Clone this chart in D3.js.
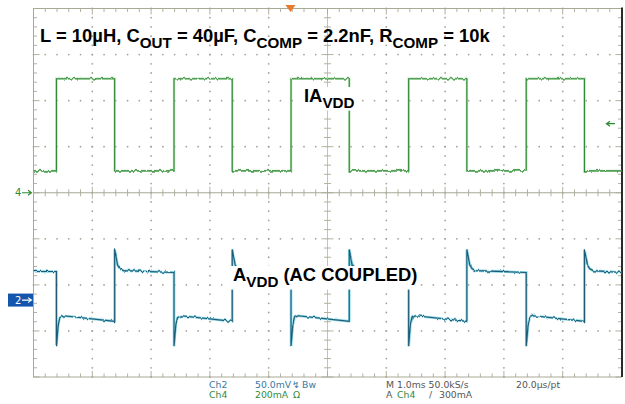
<!DOCTYPE html>
<html>
<head>
<meta charset="utf-8">
<script src="https://cdn.jsdelivr.net/npm/d3@7"></script>
<style>
  body { margin: 0; background: #fff; }
  svg { display: block; }
</style>
</head>
<body>
<div id="scope"></div>
<script>
// Scope settings
const timeDivs = 10;           // 1.0 ms/div
const voltDivs = 8;
const ch4MaPerDiv = 200;       // Ch4 200mA/div
const ch2MvPerDiv = 50;        // Ch2 50.0mV/div
const ch4OffsetDiv = 0;        // "4" marker on centre line
const ch2OffsetDiv = -2.33;    // "2" marker
const triggerMs = 4.37;
const triggerMa = 300;

// Ch4: load current IAVDD (mA), edges in ms
const ch4RiseMs = [0.39, 2.39, 4.38, 6.38, 8.38];
const ch4FallMs = [1.38, 3.38, 5.37, 7.37, 9.37];
const ch4LowMa = 95;
const ch4HighMa = 495;

// Ch2: AVDD, AC coupled (mV). Shape after each load edge as [dt ms, mV]
const ch2AfterRise = [[0, 31], [0, -50], [0.03, -27], [0.06, -19], [0.12, -17]];
const ch2AfterFall = [[0, -23], [0, 55], [0.05, 38], [0.09, 34], [0.15, 32]];
const ch2StartMv = 31;
const ch2LowEndMv = -23;
const ch2HighEndMv = 30;

const W = 625, H = 404;
const plotL = 33.5, plotR = 621.5, plotT = 8.5, plotB = 377;

const x = d3.scaleLinear().domain([0, timeDivs]).range([plotL, plotR]);
const yDiv = d3.scaleLinear().domain([-voltDivs / 2, voltDivs / 2]).range([plotB, plotT]);
const y4 = ma => yDiv(ma / ch4MaPerDiv + ch4OffsetDiv);
const y2 = mv => yDiv(mv / ch2MvPerDiv + ch2OffsetDiv);

const svg = d3.select('#scope').append('svg')
  .attr('width', W).attr('height', H)
  .style('font-family', '"Liberation Sans", Arial, sans-serif');

// slight vertical trace noise, like the scope's sampled signal (no sideways shift)
const defs = svg.append('defs');
const jitter = defs.append('filter').attr('id', 'jitter')
  .attr('x', '-2%').attr('y', '-10%').attr('width', '104%').attr('height', '120%');
jitter.append('feTurbulence').attr('type', 'fractalNoise')
  .attr('baseFrequency', '0.3 0.05').attr('numOctaves', 2).attr('seed', 4).attr('result', 'n');
jitter.append('feColorMatrix').attr('in', 'n').attr('type', 'matrix')
  .attr('values', '0 0 0 0 0.5  0 1 0 0 0  0 0 0 0 0  0 0 0 0 1').attr('result', 'ny');
jitter.append('feDisplacementMap').attr('in', 'SourceGraphic').attr('in2', 'ny')
  .attr('scale', 4).attr('xChannelSelector', 'R').attr('yChannelSelector', 'G');

// graticule
const grid = svg.append('g');
const GRID = '#a9a996';
const DOT = '#a4a498';
const minorX = d3.range(0, timeDivs + 0.001, 0.2);
const minorY = d3.range(-voltDivs / 2, voltDivs / 2 + 0.001, 0.2);
const isMajor = v => Math.abs(v - Math.round(v)) < 0.01;

// dotted division lines
const dots = [];
d3.range(1, timeDivs).filter(i => i !== timeDivs / 2).forEach(i => {
  minorY.forEach(v => dots.push([x(i), yDiv(v)]));
});
d3.range(-voltDivs / 2 + 1, voltDivs / 2).filter(k => k !== 0).forEach(k => {
  minorX.forEach(t => dots.push([x(t), yDiv(k)]));
});
grid.selectAll('circle.dot').data(dots).join('circle').attr('class', 'dot')
  .attr('cx', d => d[0]).attr('cy', d => d[1]).attr('r', 0.9).attr('fill', DOT);

// frame and centre cross
grid.append('rect').attr('x', plotL).attr('y', plotT)
  .attr('width', plotR - plotL).attr('height', plotB - plotT)
  .attr('fill', 'none').attr('stroke', GRID).attr('stroke-width', 1);
grid.append('line').attr('x1', plotL).attr('x2', plotR)
  .attr('y1', yDiv(0)).attr('y2', yDiv(0)).attr('stroke', GRID);
grid.append('line').attr('x1', x(timeDivs / 2)).attr('x2', x(timeDivs / 2))
  .attr('y1', plotT).attr('y2', plotB).attr('stroke', '#c4c4b6');

const ticks = [];
minorX.forEach(t => {
  const len = isMajor(t) ? 6 : 3.5;
  ticks.push([x(t), plotT, x(t), plotT + len]);
  ticks.push([x(t), plotB, x(t), plotB - len]);
  ticks.push([x(t), yDiv(0) - len, x(t), yDiv(0) + len]);
});
minorY.forEach(v => {
  const len = isMajor(v) ? 6 : 3.5;
  ticks.push([plotL, yDiv(v), plotL + len, yDiv(v)]);
  ticks.push([plotR, yDiv(v), plotR - len, yDiv(v)]);
  ticks.push([x(timeDivs / 2) - len, yDiv(v), x(timeDivs / 2) + len, yDiv(v)]);
});
grid.selectAll('line.tick').data(ticks).join('line').attr('class', 'tick')
  .attr('x1', d => d[0]).attr('y1', d => d[1]).attr('x2', d => d[2]).attr('y2', d => d[3])
  .attr('stroke', GRID).attr('stroke-width', 0.9);

// dark right edge of the screen
svg.append('line').attr('x1', plotR + 0.5).attr('x2', plotR + 0.5)
  .attr('y1', plotT - 1).attr('y2', plotB).attr('stroke', '#2a2a2a').attr('stroke-width', 2);

// traces
const ch4Pts = [[0, ch4LowMa]];
ch4RiseMs.forEach((r, i) => {
  const f = ch4FallMs[i];
  ch4Pts.push([r, ch4LowMa], [r, ch4HighMa], [f, ch4HighMa], [f, ch4LowMa]);
});
ch4Pts.push([timeDivs, ch4LowMa]);

const ch2Pts = [[0, ch2StartMv]];
ch4RiseMs.forEach((r, i) => {
  const f = ch4FallMs[i];
  ch2AfterRise.forEach(([dt, mv], j) => ch2Pts.push([r + dt, j === 0 && i > 0 ? ch2HighEndMv : mv]));
  ch2Pts.push([f, ch2LowEndMv]);
  ch2AfterFall.slice(1).forEach(([dt, mv]) => ch2Pts.push([f + dt, mv]));
});
ch2Pts.push([timeDivs, ch2HighEndMv]);

const line4 = d3.line().x(d => x(d[0])).y(d => y4(d[1]));
const line2 = d3.line().x(d => x(d[0])).y(d => y2(d[1]));

const traces = svg.append('g').attr('filter', 'url(#jitter)');
traces.append('path').attr('d', line4(ch4Pts)).attr('fill', 'none')
  .attr('stroke', '#9fd49f').attr('stroke-width', 2.4).attr('stroke-opacity', 0.7);
traces.append('path').attr('d', line4(ch4Pts)).attr('fill', 'none')
  .attr('stroke', '#2f8a34').attr('stroke-width', 1.1);
traces.append('path').attr('d', line2(ch2Pts)).attr('fill', 'none')
  .attr('stroke', '#5cc6dc').attr('stroke-width', 2.6).attr('stroke-opacity', 0.75);
traces.append('path').attr('d', line2(ch2Pts)).attr('fill', 'none')
  .attr('stroke', '#1f5a74').attr('stroke-width', 1.1);

// labels
const FS = 18.4, SUB = 15.2, SUBDY = 5.6;
function label(xp, yp, parts, boxed) {
  const g = svg.append('g');
  const t = g.append('text').attr('x', xp).attr('y', yp)
    .attr('font-weight', 'bold').attr('font-size', FS).attr('fill', '#000');
  let shift = 0;
  parts.forEach(([s, sub]) => {
    const dy = sub ? SUBDY - shift : -shift;
    shift = sub ? SUBDY : 0;
    t.append('tspan').attr('dy', dy).attr('font-size', sub ? SUB : FS).text(s);
  });
  if (boxed) {
    const b = t.node().getBBox();
    g.insert('rect', 'text').attr('x', b.x - 2).attr('y', b.y + 2)
      .attr('width', b.width + 4).attr('height', b.height - 2).attr('fill', '#fff');
  }
}
label(x(0) + 6.5, 42, [['L = 10µH, C'], ['OUT', 1], [' = 40µF, C'], ['COMP', 1],
  [' = 2.2nF, R'], ['COMP', 1], [' = 10k']], false);
label(304, 102, [['IA'], ['VDD', 1]], true);
label(233, 281, [['A'], ['VDD', 1], [' (AC COUPLED)']], true);

// channel markers
const mk = svg.append('g').attr('font-family', '"DejaVu Sans", sans-serif');
mk.append('text').attr('x', 15).attr('y', y4(0) + 3.5).attr('font-size', 10)
  .attr('fill', '#2f8a34').text('4');
mk.append('path').attr('d', `M22,${y4(0)}H31M28,${y4(0) - 2.5}L31.5,${y4(0)}L28,${y4(0) + 2.5}`)
  .attr('stroke', '#2f8a34').attr('fill', 'none').attr('stroke-width', 1.1);
mk.append('rect').attr('x', 8).attr('y', y2(0) - 6.5).attr('width', 25).attr('height', 13)
  .attr('fill', '#1456ad');
mk.append('text').attr('x', 15).attr('y', y2(0) + 3.5).attr('font-size', 10)
  .attr('fill', '#fff').text('2');
mk.append('path').attr('d', `M22,${y2(0)}H31M28,${y2(0) - 2.5}L31.5,${y2(0)}L28,${y2(0) + 2.5}`)
  .attr('stroke', '#fff').attr('fill', 'none').attr('stroke-width', 1.1);

// trigger level and position
const ty = y4(triggerMa);
mk.append('path').attr('d', `M615,${ty}H607M610,${ty - 2.5}L606.5,${ty}L610,${ty + 2.5}`)
  .attr('stroke', '#2f8a34').attr('fill', 'none').attr('stroke-width', 1.3);
const tx = x(triggerMs);
mk.append('path').attr('d', `M${tx - 5},5L${tx + 5},5L${tx},12Z`).attr('fill', '#e8792a');

// status lines
const BLUE = '#3b78a2', GREEN = '#338a3c', GRAY = '#555';
const status = [
  [209, 388, 'Ch2', BLUE], [255, 388, '50.0mV', BLUE], [292, 388, '↯', BLUE], [302, 388, 'Bw', BLUE],
  [386, 388, 'M 1.0ms 50.0kS/s', GRAY], [516, 388, '20.0µs/pt', GRAY],
  [209, 397.5, 'Ch4', GREEN], [255, 397.5, '200mA', GREEN], [293, 397.5, 'Ω', GREEN],
  [386, 397.5, 'A', GRAY], [397, 397.5, 'Ch4', GREEN], [429, 397.5, '/', GRAY], [439, 397.5, '300mA', GRAY]
];
svg.append('g').attr('font-family', '"DejaVu Sans", sans-serif').attr('font-size', 9.3)
  .selectAll('text').data(status).join('text')
  .attr('x', d => d[0]).attr('y', d => d[1]).attr('fill', d => d[3]).text(d => d[2]);
</script>
</body>
</html>
